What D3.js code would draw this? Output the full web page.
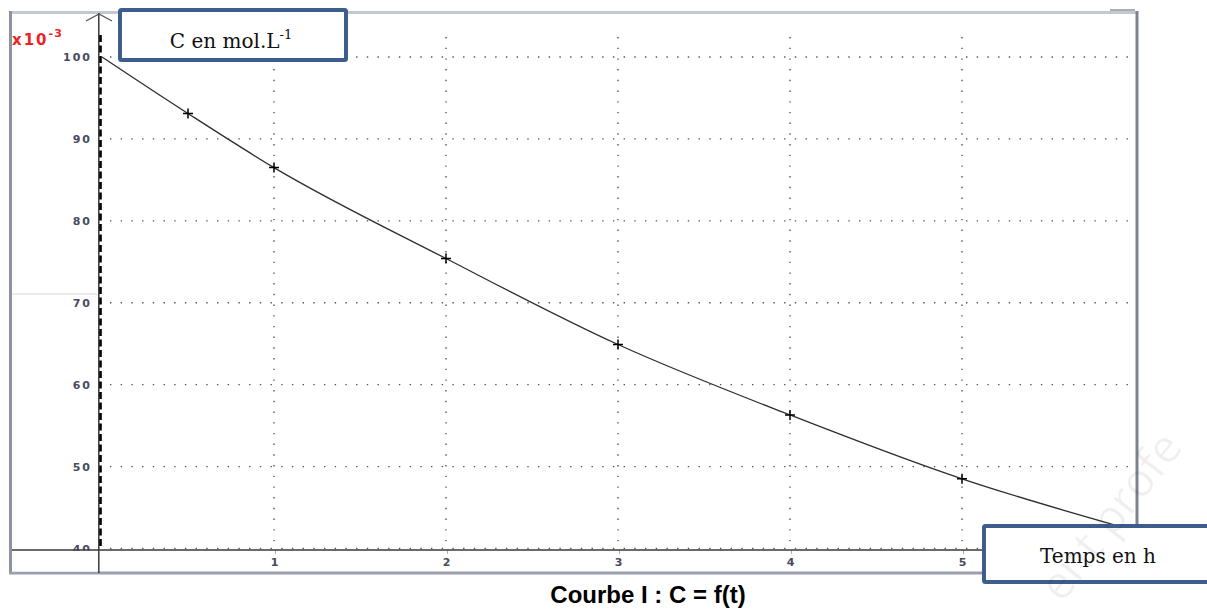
<!DOCTYPE html>
<html>
<head>
<meta charset="utf-8">
<script src="https://cdn.jsdelivr.net/npm/d3@7"></script>
<style>
    body { margin: 0; background: #fff; }
    svg { display: block; }
    .tickLbl text { font-family: 'DejaVu Sans', sans-serif; font-weight: bold; font-size: 11px; letter-spacing: 2px; fill: #474a60; }
</style>
</head>
<body>
<script>
// measured points (t in h, C in 10^-3 mol/L)
const tPoints = [0.5, 1, 2, 3, 4, 5];
const cPoints = [93.1, 86.5, 75.4, 64.9, 56.3, 48.5];

const tCurve = [0, 0.5, 1, 2, 3, 4, 5, 6];
const cCurve = [100, 93.1, 86.5, 75.4, 64.9, 56.3, 48.5, 42.2];

const xTicks = [1, 2, 3, 4, 5];
const yTicks = [40, 50, 60, 70, 80, 90, 100];

let width = 1207,
    height = 612;

let svg = d3.select('body')
    .append('svg')
    .attr('width', width)
    .attr('height', height);

let x = d3.scaleLinear()
    .domain([0, 6])
    .range([102, 1134]);

let y = d3.scaleLinear()
    .domain([40, 100])
    .range([548.5, 57]);

// frame
svg.append('line').attr('x1', 10).attr('y1', 12.5).attr('x2', 1137).attr('y2', 12.5)
    .attr('stroke', '#c4c8d0').attr('stroke-width', 3);
svg.append('line').attr('x1', 10.5).attr('y1', 11).attr('x2', 10.5).attr('y2', 574)
    .attr('stroke', '#8d929e').attr('stroke-width', 3);
svg.append('line').attr('x1', 9).attr('y1', 573).attr('x2', 1139).attr('y2', 573)
    .attr('stroke', '#9a9fab').attr('stroke-width', 3);
svg.append('line').attr('x1', 1137).attr('y1', 11).attr('x2', 1137).attr('y2', 574)
    .attr('stroke', '#7d828f').attr('stroke-width', 3);
svg.append('line').attr('x1', 1110).attr('y1', 10).attr('x2', 1135).attr('y2', 10)
    .attr('stroke', '#8d929e').attr('stroke-width', 1.5);
// stray seam left of the 70 label
svg.append('line').attr('x1', 12).attr('y1', 294).attr('x2', 97).attr('y2', 294)
    .attr('stroke', '#d6d6d6').attr('stroke-width', 1);

// dotted grid
let dots = svg.append('g')
    .attr('stroke', '#555')
    .attr('stroke-width', 1.4)
    .attr('stroke-dasharray', '1.4,9.3');

dots.selectAll('.hgrid')
    .data(yTicks)
    .enter()
    .append('line')
    .attr('x1', 110)
    .attr('x2', 1135)
    .attr('y1', d => y(d))
    .attr('y2', d => y(d));

dots.selectAll('.vgrid')
    .data(xTicks)
    .enter()
    .append('line')
    .attr('x1', d => x(d))
    .attr('x2', d => x(d))
    .attr('y1', 37)
    .attr('y2', 548);

// y tick labels
let y_axis = d3.axisLeft(y)
    .tickValues(yTicks)
    .tickFormat(d3.format('d'))
    .tickSize(0)
    .tickPadding(0);

let gy = svg.append('g')
    .attr('class', 'tickLbl')
    .attr('transform', 'translate(92, 0)')
    .call(y_axis);
gy.select('.domain').remove();

// hide the part of "40" under the axis line
svg.append('rect').attr('x', 12).attr('y', 550.5).attr('width', 86).attr('height', 21).attr('fill', '#fff');

// x tick labels
let x_axis = d3.axisBottom(x)
    .tickValues(xTicks)
    .tickFormat(d3.format('d'))
    .tickSize(4)
    .tickPadding(4);

let gx = svg.append('g')
    .attr('class', 'tickLbl')
    .attr('transform', 'translate(1, 550)')
    .call(x_axis);
gx.select('.domain').remove();
gx.selectAll('line').attr('stroke', '#b0b0b0');

// axis lines
svg.append('line').attr('x1', 12).attr('y1', 550).attr('x2', 1136).attr('y2', 550)
    .attr('stroke', '#3a3a3a').attr('stroke-width', 1.5);
svg.append('line').attr('x1', 98.8).attr('y1', 13).attr('x2', 98.8).attr('y2', 573)
    .attr('stroke', '#3a3a3a').attr('stroke-width', 1.5);
svg.append('line').attr('x1', 100.5).attr('y1', 35).attr('x2', 100.5).attr('y2', 549)
    .attr('stroke', '#000').attr('stroke-width', 2.6).attr('stroke-dasharray', '7,3.5');
svg.append('polyline')
    .attr('points', '86,21 99,14 112,21')
    .attr('fill', 'none')
    .attr('stroke', '#555')
    .attr('stroke-width', 1.2);

// x10-3
let mult = svg.append('text')
    .attr('x', 12)
    .attr('y', 45)
    .attr('font-family', 'DejaVu Sans, sans-serif')
    .attr('font-weight', 'bold')
    .attr('font-size', 15)
    .attr('letter-spacing', 2)
    .attr('fill', '#ee2222')
    .text('x10');
mult.append('tspan')
    .attr('dy', -8)
    .attr('font-size', 11)
    .attr('letter-spacing', 1)
    .text('-3');

// curve
let lineFunc = d3.line()
    .x(d => x(d[0]))
    .y(d => y(d[1]))
    .curve(d3.curveMonotoneX);

svg.append('path')
    .datum(d3.zip(tCurve, cCurve))
    .attr('d', lineFunc)
    .attr('fill', 'none')
    .attr('stroke', '#2e2e2e')
    .attr('stroke-width', 1.3);

// measured points as crosses
let crosses = svg.append('g')
    .attr('stroke', '#000')
    .attr('stroke-width', 1.5);

crosses.selectAll('.cross')
    .data(d3.zip(tPoints, cPoints))
    .enter()
    .append('path')
    .attr('d', d => {
        let px = x(d[0]), py = y(d[1]);
        return 'M' + (px - 5) + ',' + py + 'H' + (px + 5) + 'M' + px + ',' + (py - 5) + 'V' + (py + 5);
    });

// label boxes
svg.append('rect')
    .attr('x', 120).attr('y', 10).attr('width', 226).attr('height', 50)
    .attr('fill', '#fff')
    .attr('stroke', '#3d5e8c')
    .attr('stroke-width', 4)
    .attr('rx', 1.5);
let cLbl = svg.append('text')
    .attr('x', 231)
    .attr('y', 48)
    .attr('text-anchor', 'middle')
    .attr('font-family', 'DejaVu Serif, serif')
    .attr('font-size', 20)
    .attr('fill', '#111')
    .text('C en mol.L');
cLbl.append('tspan')
    .attr('dy', -9)
    .attr('font-size', 13)
    .text('-1');

svg.append('rect')
    .attr('x', 984).attr('y', 526).attr('width', 260).attr('height', 56)
    .attr('fill', '#fff')
    .attr('stroke', '#3d5e8c')
    .attr('stroke-width', 4)
    .attr('rx', 1.5);
svg.append('text')
    .attr('x', 1098)
    .attr('y', 563)
    .attr('text-anchor', 'middle')
    .attr('font-family', 'DejaVu Serif, serif')
    .attr('font-size', 20)
    .attr('fill', '#111')
    .text('Temps en h');

// caption
svg.append('text')
    .attr('x', 648)
    .attr('y', 603)
    .attr('text-anchor', 'middle')
    .attr('font-family', 'Liberation Sans, Arial, sans-serif')
    .attr('font-weight', 'bold')
    .attr('font-size', 24)
    .attr('fill', '#000')
    .text('Courbe I : C = f(t)');

// faint watermark over the corner
svg.append('text')
    .attr('transform', 'translate(1062, 604) rotate(-52)')
    .attr('font-family', 'Open Sans, sans-serif')
    .attr('font-size', 46)
    .attr('fill', '#000')
    .attr('fill-opacity', 0.06)
    .text('ent profe');
</script>
</body>
</html>
